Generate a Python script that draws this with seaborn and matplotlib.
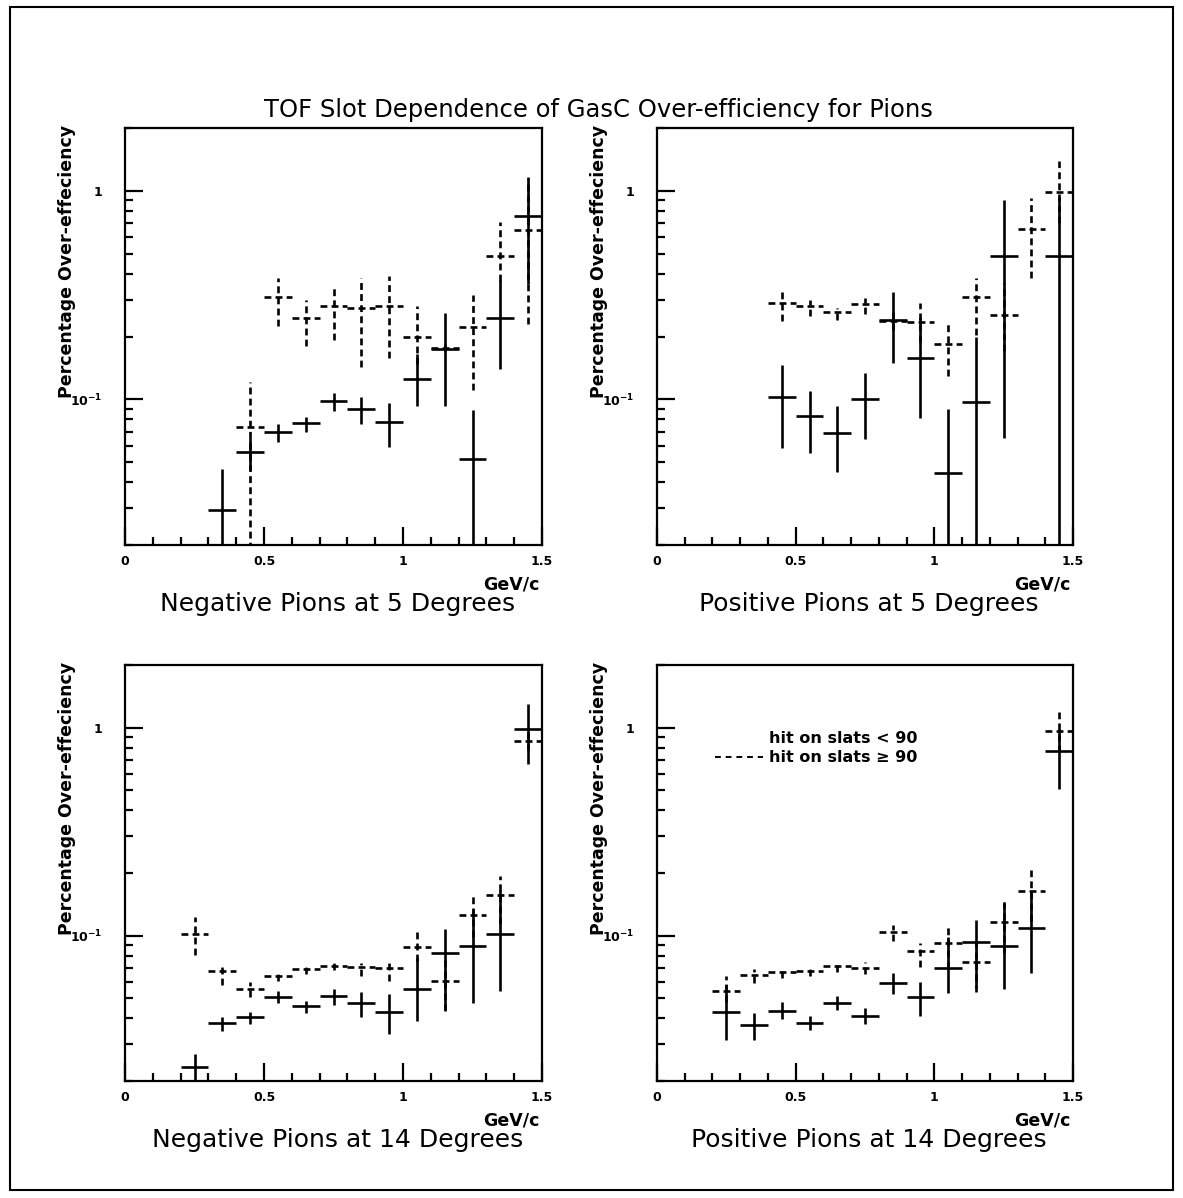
import numpy as np
import matplotlib
matplotlib.use("Agg")
import matplotlib.pyplot as plt
from matplotlib.lines import Line2D
from matplotlib.ticker import FixedLocator, FixedFormatter, NullFormatter
import seaborn as sns

sns.set_theme(style="ticks")
plt.rcParams["font.family"] = ["DejaVu Sans"]
plt.rcParams["text.color"] = "black"
plt.rcParams["axes.labelcolor"] = "black"
plt.rcParams["xtick.color"] = "black"
plt.rcParams["ytick.color"] = "black"

# ---- data: momentum bin centres (GeV/c), over-efficiency and error limits ----
# Negative pions, 5 degrees
neg5_solid_x = [0.35, 0.45, 0.55, 0.65, 0.75, 0.85, 0.95, 1.05, 1.15, 1.25, 1.35, 1.45]
neg5_solid_y = [0.0296, 0.0556, 0.0693, 0.0768, 0.098, 0.090, 0.078, 0.1255, 0.174, 0.0517, 0.246, 0.760]
neg5_solid_lo = [0.005, 0.046, 0.0621, 0.0693, 0.088, 0.076, 0.059, 0.093, 0.093, 0.005, 0.139, 0.359]
neg5_solid_hi = [0.0465, 0.065, 0.0763, 0.0826, 0.107, 0.1025, 0.096, 0.164, 0.26, 0.0889, 0.372, 1.137]
neg5_dash_x = [0.45, 0.55, 0.65, 0.75, 0.85, 0.95, 1.05, 1.15, 1.25, 1.35, 1.45]
neg5_dash_y = [0.074, 0.309, 0.244, 0.28, 0.274, 0.28, 0.198, 0.177, 0.222, 0.489, 0.651]
neg5_dash_lo = [0.005, 0.225, 0.18, 0.192, 0.143, 0.157, 0.148, 0.17, 0.111, 0.37, 0.23]
neg5_dash_hi = [0.121, 0.382, 0.30, 0.343, 0.382, 0.392, 0.28, 0.185, 0.315, 0.705, 1.16]

# Positive pions, 5 degrees
pos5_solid_x = [0.45, 0.55, 0.65, 0.75, 0.85, 0.95, 1.05, 1.15, 1.25, 1.45]
pos5_solid_y = [0.1026, 0.0828, 0.0689, 0.1007, 0.240, 0.158, 0.0443, 0.097, 0.489, 0.489]
pos5_solid_lo = [0.0584, 0.0554, 0.0449, 0.0646, 0.150, 0.0815, 0.005, 0.005, 0.0655, 0.005]
pos5_solid_hi = [0.146, 0.110, 0.0928, 0.134, 0.328, 0.248, 0.0894, 0.199, 0.905, 0.93]
pos5_dash_x = [0.45, 0.55, 0.65, 0.75, 0.85, 0.95, 1.05, 1.15, 1.25, 1.35, 1.45]
pos5_dash_y = [0.290, 0.281, 0.263, 0.287, 0.238, 0.235, 0.185, 0.308, 0.253, 0.656, 0.986]
pos5_dash_lo = [0.237, 0.252, 0.24, 0.256, 0.215, 0.189, 0.129, 0.203, 0.17, 0.38, 0.7]
pos5_dash_hi = [0.337, 0.30, 0.275, 0.307, 0.265, 0.288, 0.231, 0.38, 0.36, 0.92, 1.39]

# Negative pions, 14 degrees
neg14_solid_x = [0.25, 0.35, 0.45, 0.55, 0.65, 0.75, 0.85, 0.95, 1.05, 1.15, 1.25, 1.35, 1.45]
neg14_solid_y = [0.0234, 0.0378, 0.0404, 0.0505, 0.0457, 0.051, 0.0472, 0.0430, 0.0554, 0.0826, 0.0891, 0.102, 0.989]
neg14_solid_lo = [0.005, 0.0348, 0.0375, 0.0472, 0.0423, 0.0465, 0.0404, 0.0335, 0.0387, 0.0438, 0.0472, 0.0539, 0.666]
neg14_solid_hi = [0.027, 0.0405, 0.0428, 0.054, 0.0487, 0.0555, 0.0534, 0.0525, 0.078, 0.108, 0.135, 0.166, 1.305]
neg14_dash_x = [0.25, 0.35, 0.45, 0.55, 0.65, 0.75, 0.85, 0.95, 1.05, 1.15, 1.25, 1.35, 1.45]
neg14_dash_y = [0.102, 0.0678, 0.0554, 0.0642, 0.069, 0.0714, 0.0704, 0.0699, 0.0885, 0.0603, 0.126, 0.156, 0.863]
neg14_dash_lo = [0.081, 0.058, 0.0505, 0.0605, 0.0656, 0.068, 0.0642, 0.0605, 0.0757, 0.0434, 0.098, 0.114, 0.78]
neg14_dash_hi = [0.123, 0.0726, 0.0596, 0.068, 0.072, 0.0757, 0.074, 0.074, 0.104, 0.0786, 0.156, 0.194, 0.95]

# Positive pions, 14 degrees
pos14_solid_x = [0.25, 0.35, 0.45, 0.55, 0.65, 0.75, 0.85, 0.95, 1.05, 1.15, 1.25, 1.35, 1.45]
pos14_solid_y = [0.0429, 0.0370, 0.0436, 0.0379, 0.0473, 0.0411, 0.0595, 0.0509, 0.0697, 0.0929, 0.0891, 0.109, 0.773]
pos14_solid_lo = [0.0316, 0.0316, 0.0399, 0.0350, 0.0439, 0.0376, 0.0524, 0.0411, 0.0529, 0.0559, 0.0555, 0.0659, 0.506]
pos14_solid_hi = [0.058, 0.0423, 0.0482, 0.0409, 0.0510, 0.0449, 0.066, 0.060, 0.098, 0.119, 0.143, 0.163, 0.989]
pos14_dash_x = [0.25, 0.35, 0.45, 0.55, 0.65, 0.75, 0.85, 0.95, 1.05, 1.15, 1.25, 1.35, 1.45]
pos14_dash_y = [0.0542, 0.0647, 0.0672, 0.0676, 0.0715, 0.0697, 0.1038, 0.0848, 0.0919, 0.0745, 0.116, 0.164, 0.960]
pos14_dash_lo = [0.048, 0.0590, 0.0624, 0.0636, 0.0672, 0.0654, 0.0945, 0.0709, 0.0697, 0.0538, 0.0824, 0.117, 0.764]
pos14_dash_hi = [0.0636, 0.0694, 0.0709, 0.0724, 0.0757, 0.0744, 0.112, 0.092, 0.110, 0.097, 0.146, 0.207, 1.19]

bin_half_width = 0.05

panel_titles = ["Negative Pions at 5 Degrees", "Positive Pions at 5 Degrees",
                "Negative Pions at 14 Degrees", "Positive Pions at 14 Degrees"]
main_title = "TOF Slot Dependence of GasC Over-efficiency for Pions"
y_title = "Percentage Over-effeciency"
x_unit = "GeV/c"
legend_labels = ["hit on slats < 90", "hit on slats \u2265 90"]
x_tick_values = [0, 0.5, 1, 1.5]
x_tick_labels = ["0", "0.5", "1", "1.5"]
y_tick_values = [0.1, 1]
y_tick_labels = ["10$^{\\mathbf{-1}}$", "1"]

panels = [
    (neg5_solid_x, neg5_solid_y, neg5_solid_lo, neg5_solid_hi,
     neg5_dash_x, neg5_dash_y, neg5_dash_lo, neg5_dash_hi),
    (pos5_solid_x, pos5_solid_y, pos5_solid_lo, pos5_solid_hi,
     pos5_dash_x, pos5_dash_y, pos5_dash_lo, pos5_dash_hi),
    (neg14_solid_x, neg14_solid_y, neg14_solid_lo, neg14_solid_hi,
     neg14_dash_x, neg14_dash_y, neg14_dash_lo, neg14_dash_hi),
    (pos14_solid_x, pos14_solid_y, pos14_solid_lo, pos14_solid_hi,
     pos14_dash_x, pos14_dash_y, pos14_dash_lo, pos14_dash_hi),
]

W, H = 1183, 1198
fig = plt.figure(figsize=(W / 100, H / 100), dpi=100, facecolor="white")

# page frame
fig.patches.append(plt.Rectangle((10 / W, 1 - 1190 / H), 1163 / W, 1183 / H,
                                 transform=fig.transFigure, fill=False,
                                 edgecolor="black", linewidth=1.5))

# axes rectangles in pixels: left, top, right, bottom
boxes = [(125, 128, 542, 545), (657, 128, 1073, 545),
         (125, 665, 542, 1081), (657, 665, 1073, 1081)]

dash_style = (0, (2.6, 1.6))
LW = 1.9

for i, (box, data, ttl) in enumerate(zip(boxes, panels, panel_titles)):
    l, t, r, b = box
    ax = fig.add_axes([l / W, 1 - b / H, (r - l) / W, (b - t) / H])
    sx, sy, slo, shi, dx, dy, dlo, dhi = [np.asarray(a, float) for a in data]

    ax.errorbar(sx, sy, xerr=bin_half_width, yerr=[sy - slo, shi - sy],
                fmt="none", ecolor="black", elinewidth=LW, capsize=0)
    eb2 = ax.errorbar(dx, dy, xerr=bin_half_width, yerr=[dy - dlo, dhi - dy],
                      fmt="none", ecolor="black", elinewidth=LW, capsize=0)
    for coll in eb2[2]:
        coll.set_linestyle(dash_style)

    ax.set_yscale("log")
    ax.set_xlim(0, 1.5)
    ax.set_ylim(0.02, 2.0)
    ax.set_facecolor("white")
    ax.grid(False)
    for sp in ax.spines.values():
        sp.set_linewidth(1.6)
        sp.set_color("black")

    ax.xaxis.set_major_locator(FixedLocator(x_tick_values))
    ax.xaxis.set_major_formatter(FixedFormatter(x_tick_labels))
    ax.xaxis.set_minor_locator(FixedLocator(np.arange(0.1, 1.5, 0.1)))
    ax.yaxis.set_major_locator(FixedLocator(y_tick_values))
    ax.yaxis.set_major_formatter(FixedFormatter(y_tick_labels))
    minors = [m * 10.0 ** e for e in (-2, -1, 0) for m in range(2, 10)]
    ax.yaxis.set_minor_locator(FixedLocator(minors))
    ax.yaxis.set_minor_formatter(NullFormatter())

    ax.tick_params(axis="both", which="major", direction="in", length=13,
                   width=1.6, color="black", labelsize=9, labelcolor="black")
    ax.tick_params(axis="both", which="minor", direction="in", length=6,
                   width=1.6, color="black")
    ax.tick_params(axis="x", which="major", pad=7)
    ax.tick_params(axis="y", which="major", pad=16)
    for lab in ax.get_xticklabels() + ax.get_yticklabels():
        lab.set_fontweight("bold")

    ax.text(-0.14, 0.68, y_title, transform=ax.transAxes, rotation=90,
            ha="center", va="center", fontsize=12.5, fontweight="bold")
    ax.text(0.995, -0.095, x_unit, transform=ax.transAxes, ha="right",
            va="center", fontsize=12.5, fontweight="bold")
    ax.text(0.51, -0.142, ttl, transform=ax.transAxes, ha="center",
            va="center", fontsize=18)

    if i == 3:
        handles = [Line2D([], [], color="none"),
                   Line2D([], [], color="black", lw=1.4, linestyle=(0, (3, 2.5)))]
        ax.legend(handles, legend_labels, loc="upper left",
                  bbox_to_anchor=(0.105, 0.875), frameon=False,
                  handlelength=3.0, handletextpad=0.4, labelspacing=0.25,
                  prop={"size": 11.5, "weight": "bold"})

fig.text(0.506, 1 - 110 / H, main_title, ha="center", va="center", fontsize=17.5)

fig.savefig("out.png", dpi=100, facecolor="white")
